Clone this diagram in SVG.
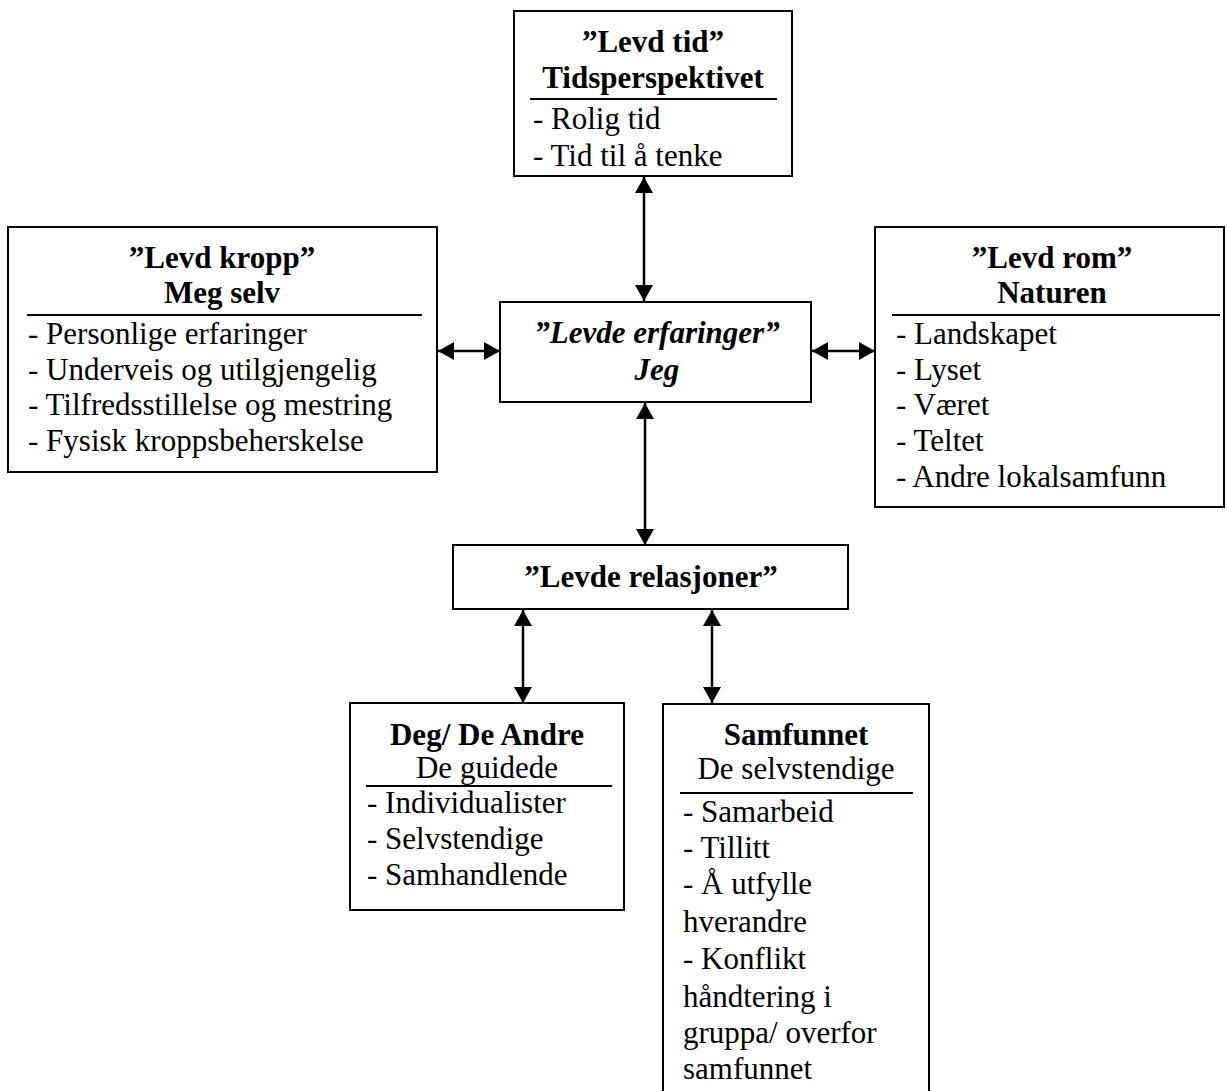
<svg xmlns="http://www.w3.org/2000/svg" width="1227" height="1091" viewBox="0 0 1227 1091">
<style>
.box{fill:#fff;stroke:#000;stroke-width:2}
.ul{stroke:#000;stroke-width:2}
text{font-family:"Liberation Serif","Times New Roman",serif;font-size:31px;fill:#000}
.b{font-weight:bold}
.c{text-anchor:middle}
.bi{font-weight:bold;font-style:italic}
.con{stroke:#000;stroke-width:2.5;fill:none;marker-start:url(#ah);marker-end:url(#ah)}
</style>
<defs>
<marker id="ah" markerWidth="17" markerHeight="18" refX="16" refY="9" orient="auto-start-reverse" markerUnits="userSpaceOnUse">
<path d="M0,0 L16,9 L0,18 z" fill="#000"/>
</marker>
</defs>
<rect width="1227" height="1091" fill="#fff"/>
<g id="connectors">
<path class="con" d="M644,177 L644,301"/>
<path class="con" d="M645,403 L645,545"/>
<path class="con" d="M438,351 L500,351"/>
<path class="con" d="M812,351 L875,351"/>
<path class="con" d="M523,610 L523,703"/>
<path class="con" d="M712,610 L712,703"/>
</g>
<g id="levd-tid">
<rect class="box" x="514" y="11" width="278" height="165"/>
<text class="b c" x="653" y="52">”Levd tid”</text>
<text class="b c" x="653" y="88">Tidsperspektivet</text>
<line class="ul" x1="530" y1="99" x2="777" y2="99"/>
<text x="533" y="129">- Rolig tid</text>
<text x="533" y="166">- Tid til å tenke</text>
</g>
<g id="levd-kropp">
<rect class="box" x="8" y="227" width="429" height="245"/>
<text class="b c" x="222" y="268">”Levd kropp”</text>
<text class="b c" x="222" y="303">Meg selv</text>
<line class="ul" x1="27" y1="315" x2="422" y2="315"/>
<text x="28" y="344">- Personlige erfaringer</text>
<text x="28" y="380">- Underveis og utilgjengelig</text>
<text x="28" y="415">- Tilfredsstillelse og mestring</text>
<text x="28" y="451">- Fysisk kroppsbeherskelse</text>
</g>
<g id="levd-rom">
<rect class="box" x="875" y="227" width="349" height="280"/>
<text class="b c" x="1052" y="268">”Levd rom”</text>
<text class="b c" x="1052" y="303">Naturen</text>
<line class="ul" x1="892" y1="315" x2="1220" y2="315"/>
<text x="896" y="344">- Landskapet</text>
<text x="896" y="380">- Lyset</text>
<text x="896" y="415">- Været</text>
<text x="896" y="451">- Teltet</text>
<text x="896" y="487">- Andre lokalsamfunn</text>
</g>
<g id="levde-erfaringer">
<rect class="box" x="500" y="302" width="311" height="100"/>
<text class="bi c" x="657" y="343">”Levde erfaringer”</text>
<text class="bi c" x="657" y="380">Jeg</text>
</g>
<g id="levde-relasjoner">
<rect class="box" x="453" y="545" width="395" height="64"/>
<text class="b c" x="651" y="587">”Levde relasjoner”</text>
</g>
<g id="deg-de-andre">
<rect class="box" x="350" y="703" width="274" height="207"/>
<text class="b c" x="487" y="745">Deg/ De Andre</text>
<text class="c" x="487" y="778">De guidede</text>
<line class="ul" x1="366" y1="786" x2="612" y2="786"/>
<text x="367" y="813">- Individualister</text>
<text x="367" y="849">- Selvstendige</text>
<text x="367" y="885">- Samhandlende</text>
</g>
<g id="samfunnet">
<rect class="box" x="663" y="704" width="266" height="392"/>
<text class="b c" x="796" y="745">Samfunnet</text>
<text class="c" x="796" y="779">De selvstendige</text>
<line class="ul" x1="680" y1="793" x2="913" y2="793"/>
<text x="683" y="822">- Samarbeid</text>
<text x="683" y="858">- Tillitt</text>
<text x="683" y="894">- Å utfylle</text>
<text x="683" y="932">hverandre</text>
<text x="683" y="969">- Konflikt</text>
<text x="683" y="1007">håndtering i</text>
<text x="683" y="1043">gruppa/ overfor</text>
<text x="683" y="1079">samfunnet</text>
</g>
</svg>
